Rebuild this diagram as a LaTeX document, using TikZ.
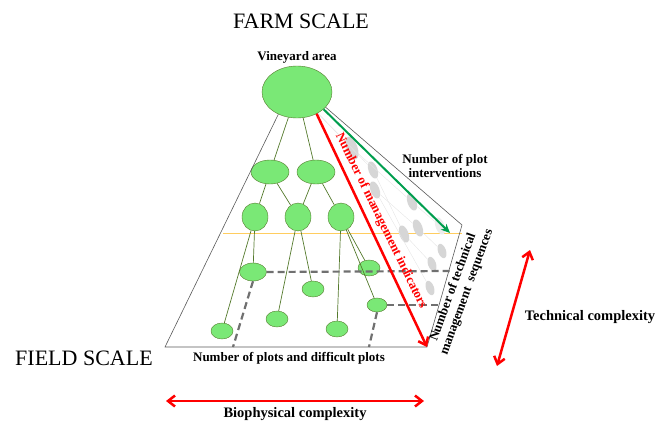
\documentclass[tikz,border=0pt]{standalone}
\usepackage{fontspec}
\setmainfont{Liberation Serif}
\usetikzlibrary{arrows.meta,shapes.geometric,positioning}
\definecolor{leafgreen}{RGB}{122,232,118}
\definecolor{leafedge}{RGB}{84,122,44}
\definecolor{arrowgreen}{RGB}{0,158,78}
\definecolor{dashgray}{RGB}{112,112,112}
\definecolor{lineorange}{RGB}{255,205,95}
\begin{document}
\begin{tikzpicture}[x=1pt,y=-1pt,>={Straight Barb[length=7pt,width=11pt]},
  leaf node/.style={ellipse,draw=leafedge,fill=leafgreen,inner sep=0pt},
  ghost node/.style={ellipse,fill=gray!32,inner sep=0pt,rotate=20,
    minimum width=9pt,minimum height=18pt},
  tree line/.style={draw=leafedge,line width=0.7pt},
  ghost line/.style={draw=gray!20,thin},
  frame line/.style={draw=gray!70!black,line width=0.6pt},
  label text/.style={font=\bfseries\fontsize{13}{14.5}\selectfont,align=center,inner sep=1pt},
  axis text/.style={font=\bfseries\fontsize{14.5}{16}\selectfont,inner sep=1pt},
  scale text/.style={font=\fontsize{22}{24}\selectfont},
  plot bound/.style={dashgray,line width=2.2pt,dash pattern=on 7pt off 4pt},
  red arrow/.style={<->,red,line width=2.5pt}]
\useasboundingbox (0,0) rectangle (657,423);
% vineyard tree
\node[leaf node,minimum width=70pt,minimum height=52pt] (A) at (297,92) {};
\node[leaf node,minimum width=38pt,minimum height=24pt] (B1) at (270,172) {};
\node[leaf node,minimum width=38pt,minimum height=24pt] (B2) at (316,172) {};
\node[leaf node,minimum width=26pt,minimum height=28pt] (C1) at (255,217) {};
\node[leaf node,minimum width=26pt,minimum height=28pt] (C2) at (298,217) {};
\node[leaf node,minimum width=26pt,minimum height=28pt] (C3) at (341,217) {};
\node[leaf node,minimum width=27pt,minimum height=18pt] (D1) at (253,272) {};
\node[leaf node,minimum width=22pt,minimum height=16pt] (D2) at (313,289) {};
\node[leaf node,minimum width=22pt,minimum height=16pt] (D3) at (369,268) {};
\node[leaf node,minimum width=20pt,minimum height=14pt] (D4) at (377,305) {};
\node[leaf node,minimum width=22pt,minimum height=16pt] (D5) at (222,331) {};
\node[leaf node,minimum width=22pt,minimum height=16pt] (D6) at (277,319) {};
\node[leaf node,minimum width=22pt,minimum height=16pt] (D7) at (337,329) {};

% corners of the plot plane
\coordinate (fl) at (165,347);
\coordinate (fr) at (427,347);
\coordinate (br) at (462,225);
\coordinate (ol) at (223,233);
\coordinate (or) at (462,233);
\coordinate (pi) at (450,233);
\coordinate (dh1) at (452,271);
\coordinate (dv1) at (233,347);
\coordinate (dh2) at (440,305);
\coordinate (dv2) at (369,347);

\draw[lineorange,line width=0.8pt] (ol) -- (or);
\draw[frame line] (A.-130) -- (fl) -- (fr) -- (br) -- (A.-28);

% faint tree on the side face
\node[ghost node,minimum width=11pt,minimum height=24pt] (g1) at (352,148) {};
\node[ghost node] (g2) at (373,170) {};
\node[ghost node] (g3) at (375,190) {};
\node[ghost node] (g4) at (412,202) {};
\node[ghost node] (g5) at (404,234) {};
\node[ghost node] (g6) at (418,228) {};
\node[ghost node,fill=gray!15] (g7) at (440,226) {};
\node[ghost node,minimum width=8pt,minimum height=15pt] (g8) at (442,251) {};
\node[ghost node,minimum width=8pt,minimum height=15pt] (g9) at (432,264) {};
\node[ghost node,minimum width=8pt,minimum height=15pt] (g10) at (430,288) {};
\path[ghost line] (A) edge (g1) (A) edge (g2) (g1) edge (g4) (g2) edge (g5)
  (g3) edge (g6) (g4) edge (g7) (g6) edge (g8) (g5) edge (g9) (g3) edge (g10);

\path[tree line] (A) edge (B1) (A) edge (B2);
\path[tree line] (B1) edge (C1) (B1) edge (C2) (B2) edge (C2) (B2) edge (C3);
\path[tree line] (C1) edge (D1) (C1) edge (D5);
\path[tree line] (C2) edge (D6) (C2) edge (D2);
\path[tree line] (C3) edge (D7) (C3) edge (D3) (C3) edge (D4);

% plots and difficult plots
\draw[plot bound] (D1.east) -- (dh1);
\draw[plot bound] (D1.south) -- (dv1);
\draw[plot bound] (D4.east) -- (dh2);
\draw[plot bound] (D4.south) -- (dv2);

\draw[-{Stealth[length=9pt,width=8pt]},arrowgreen,line width=2pt] (A.-33) -- (pi);
\draw[->,red,line width=2.5pt] (A.-48) -- (fr);

% labels
\node[scale text] (farm) at (301,21) {FARM SCALE};
\node[scale text] (field) at (84,358) {FIELD SCALE};
\node[label text] (va) [above=1pt of A] {Vineyard area};
\node[label text] (npi) at (445,166) {Number of plot\\interventions};
\node[label text,text=red,rotate=-64] (nmi) at (381,221) {Number of management indicators};
\node[label text,rotate=70] (nts) at (460,290) {Number of technical\\management~~sequences};
\node[label text] (npd) at (289,358) {Number of plots and difficult plots};

% complexity axes
\coordinate (tc1) at (530,250);
\coordinate (tc2) at (497,366);
\coordinate (bc1) at (166,401);
\coordinate (bc2) at (424,401);
\draw[red arrow] (tc1) -- (tc2);
\draw[red arrow] (bc1) -- (bc2);
\node[axis text] (tc) at (590,317) {Technical complexity};
\node[axis text] (bc) [below=5pt of bc1, anchor=north, xshift=129pt] {Biophysical complexity};
\end{tikzpicture}
\end{document}
